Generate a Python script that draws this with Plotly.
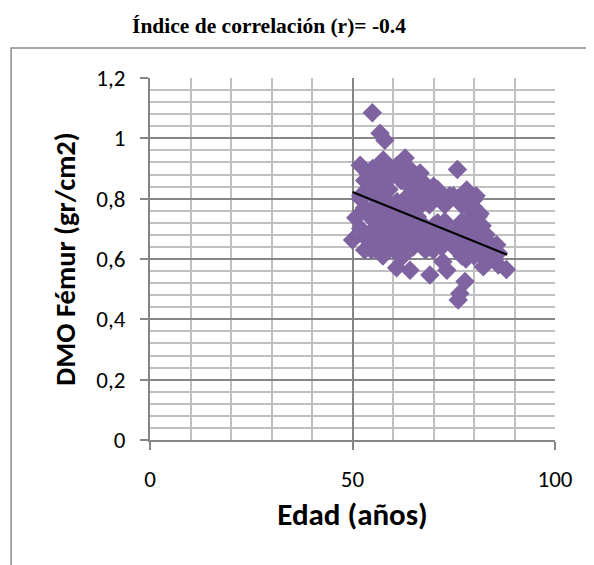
import plotly.graph_objects as go

# --- datos ---
edad = [
    54.9, 56.8, 58.0, 57.6, 51.9, 63.0, 75.9, 50.0, 60.9, 64.2,
    69.1, 73.3, 72.3, 77.8, 76.5, 76.1, 88.0, 83.1, 82.3, 85.6,
    78.2, 74.9, 79.8, 79.4, 54.7, 58.0, 50.8, 52.0,
    52, 52, 53, 53, 53, 54, 54, 54, 54, 55, 55, 55, 55, 55,
    56, 56, 56, 56, 56, 56, 57, 57, 57, 57, 57, 58, 58, 58, 58,
    59, 59, 59, 59, 59, 59, 60, 60, 60, 60, 61, 61, 61, 61, 61, 61,
    62, 62, 62, 62, 62, 63, 63, 63, 63, 63, 64, 64, 64, 64, 64,
    65, 65, 65, 65, 65, 65, 66, 66, 66, 66, 66, 67, 67, 67, 67, 67,
    68, 68, 68, 68, 68, 69, 69, 69, 69, 70, 70, 70, 70, 70,
    71, 71, 71, 71, 72, 72, 72, 72, 73, 73, 74, 74, 75, 75,
    76, 76, 77, 77, 77, 77, 78, 78, 78, 78, 79, 79, 79, 80, 80, 80, 80,
    81, 81, 81, 82, 82, 82, 83, 83, 84, 84, 85, 86, 86,
    66.7, 70.0, 72.8, 77.0, 72.8, 77.0, 80.5, 81.5, 53.0, 57.5, 62.5,
]
dmo = [
    1.085, 1.017, 0.994, 0.928, 0.911, 0.935, 0.897, 0.663, 0.571, 0.563,
    0.547, 0.563, 0.591, 0.525, 0.486, 0.464, 0.565, 0.597, 0.574, 0.647,
    0.829, 0.810, 0.795, 0.757, 0.630, 0.620, 0.737, 0.810,
    0.80, 0.70, 0.86, 0.77, 0.68, 0.88, 0.83, 0.75, 0.66, 0.90, 0.85, 0.81, 0.73, 0.69,
    0.87, 0.82, 0.78, 0.71, 0.67, 0.63, 0.89, 0.84, 0.79, 0.74, 0.66, 0.86, 0.80, 0.72, 0.68,
    0.90, 0.83, 0.77, 0.73, 0.69, 0.64, 0.88, 0.75, 0.71, 0.65, 0.91, 0.79, 0.76, 0.72, 0.68, 0.62,
    0.92, 0.86, 0.74, 0.70, 0.64, 0.88, 0.80, 0.77, 0.72, 0.66, 0.90, 0.84, 0.79, 0.75, 0.68,
    0.87, 0.82, 0.76, 0.73, 0.69, 0.64, 0.85, 0.80, 0.74, 0.71, 0.66, 0.86, 0.82, 0.78, 0.72, 0.67,
    0.84, 0.80, 0.70, 0.66, 0.63, 0.82, 0.78, 0.69, 0.64, 0.84, 0.80, 0.71, 0.67, 0.63,
    0.83, 0.72, 0.68, 0.65, 0.81, 0.70, 0.67, 0.64, 0.79, 0.66, 0.81, 0.67, 0.69, 0.64,
    0.80, 0.68, 0.69, 0.66, 0.63, 0.61, 0.81, 0.68, 0.63, 0.60, 0.73, 0.69, 0.65, 0.77, 0.70, 0.66, 0.61,
    0.74, 0.69, 0.64, 0.71, 0.66, 0.61, 0.68, 0.63, 0.65, 0.61, 0.60, 0.62, 0.58,
    0.885, 0.84, 0.779, 0.779, 0.724, 0.724, 0.81, 0.75, 0.63, 0.61, 0.61,
]

# línea de tendencia (extremos leídos)
tend_x = [50.0, 88.2]
tend_y = [0.822, 0.614]

AXIS = "#868686"
MINOR = "#c0c0c0"
FONT = "Calibri, Carlito, Lato, sans-serif"

fig = go.Figure()
fig.add_trace(go.Scatter(
    x=edad, y=dmo, mode="markers",
    marker=dict(symbol="diamond", size=15, color="#7f63a1", line=dict(width=0)),
    showlegend=False, hoverinfo="x+y"))
fig.add_trace(go.Scatter(
    x=tend_x, y=tend_y, mode="lines",
    line=dict(color="black", width=2), showlegend=False))

fig.update_xaxes(
    range=[0, 100], tickvals=[0, 50, 100], showgrid=True, gridcolor=AXIS, gridwidth=1.5,
    minor=dict(dtick=10, showgrid=True, gridcolor=MINOR, gridwidth=1.5),
    showline=True, linecolor=AXIS, linewidth=2, mirror=False,
    ticks="outside", ticklen=8, tickcolor=AXIS, tickwidth=1.5,
    zeroline=False, ticklabelstandoff=9,
    tickfont=dict(family=FONT, size=23, color="black"),
    title=dict(text="<b>Edad (años)</b>", font=dict(family=FONT, size=31, color="black"),
               standoff=12))
fig.update_yaxes(
    range=[0, 1.2], tickvals=[0, 0.2, 0.4, 0.6, 0.8, 1.0, 1.2],
    showgrid=True, gridcolor=AXIS, gridwidth=1.5,
    minor=dict(dtick=0.04, showgrid=True, gridcolor=MINOR, gridwidth=1.5),
    showline=True, linecolor=AXIS, linewidth=2,
    ticks="outside", ticklen=8, tickcolor=AXIS, tickwidth=1.5,
    zeroline=False, ticklabelstandoff=10,
    tickfont=dict(family=FONT, size=23, color="black"),
    title=dict(text="<b>DMO Fémur (gr/cm2)</b>", font=dict(family=FONT, size=28.5, color="black"),
               standoff=12))

fig.add_shape(type="rect", xref="paper", yref="paper",
              x0=-0.343, x1=1.2, y0=-0.4, y1=1.083,
              line=dict(color="#8c8c8c", width=1.5), layer="below")

fig.update_layout(
    width=594, height=565,
    margin=dict(l=142, r=47, t=70, b=133),
    paper_bgcolor="white", plot_bgcolor="white",
    separators=", ",
    title=dict(text="<b>Índice de correlación (r)= -0.4</b>",
               font=dict(family="Times New Roman, Liberation Serif, serif", size=21.5, color="black"),
               x=261 / 594, xanchor="center", xref="container",
               y=1 - 17 / 565, yanchor="middle", yref="container"),
)

fig.write_html("out.html")
